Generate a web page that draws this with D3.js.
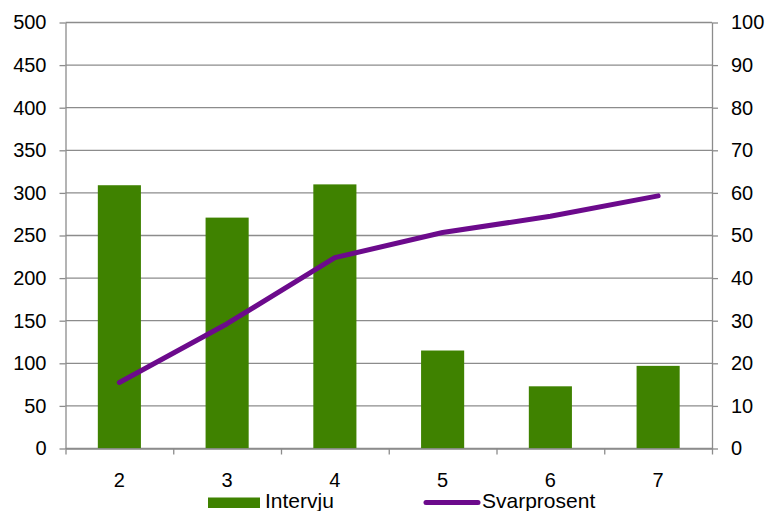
<!DOCTYPE html>
<html>
<head>
<meta charset="utf-8">
<script src="https://cdn.jsdelivr.net/npm/d3@7"></script>
<style>
  html, body { margin: 0; padding: 0; background: #fff; overflow: hidden; }
  text { font-family: Arial, "Liberation Sans", sans-serif; fill: #000; }
</style>
</head>
<body>
<div id="chart"></div>
<script>
// Interviews (bars, left axis) and response rate (line, right axis)
const categories   = ["2", "3", "4", "5", "6", "7"];
const intervju     = [309, 271, 310, 115, 73, 97];
const svarprosent  = [15.5, 29.3, 44.8, 50.7, 54.5, 59.3];
const leftTicks    = [0, 50, 100, 150, 200, 250, 300, 350, 400, 450, 500];
const rightTicks   = [0, 10, 20, 30, 40, 50, 60, 70, 80, 90, 100];

const width = 768, height = 511;
const margin = { top: 22.5, right: 56, bottom: 62.5, left: 65.5 };
const plot_width  = width  - margin.left - margin.right;
const plot_height = height - margin.top  - margin.bottom;

const gridColor = "#8c8c8c";
const barColor  = "#3f8200";
const lineColor = "#6c0a8c";
const fontSize  = "20px";

const svg = d3.select("#chart").append("svg")
  .attr("width", width)
  .attr("height", height);

const plot = svg.append("g")
  .attr("transform", `translate(${margin.left}, ${margin.top})`);

// ── Scales ────────────────────────────────────────────────────────────────
const x = d3.scaleBand()
  .domain(categories)
  .range([0, plot_width])
  .paddingInner(0.6)
  .paddingOuter(0.3);

const xEdges = d3.scaleLinear()
  .domain([0, categories.length])
  .range([0, plot_width]);

const yLeft = d3.scaleLinear().domain([0, 500]).range([plot_height, 0]);
const yRight = d3.scaleLinear().domain([0, 100]).range([plot_height, 0]);

// ── Gridlines ─────────────────────────────────────────────────────────────
plot.append("g")
  .selectAll("line")
  .data(leftTicks)
  .join("line")
  .attr("x1", 0).attr("x2", plot_width)
  .attr("y1", d => yLeft(d)).attr("y2", d => yLeft(d))
  .attr("stroke", gridColor)
  .attr("stroke-width", 1.3);

// ── Bars ──────────────────────────────────────────────────────────────────
plot.append("g")
  .selectAll("rect")
  .data(intervju)
  .join("rect")
  .attr("x", (d, i) => x(categories[i]))
  .attr("y", d => yLeft(d))
  .attr("width", x.bandwidth())
  .attr("height", d => plot_height - yLeft(d))
  .attr("fill", barColor);

// ── Axes ──────────────────────────────────────────────────────────────────
function styleAxis(g) {
  g.select(".domain").attr("stroke", gridColor).attr("stroke-width", 1.3);
  g.selectAll(".tick line").attr("stroke", gridColor).attr("stroke-width", 1.3);
  g.selectAll(".tick text")
    .style("font-size", fontSize)
    .style("font-family", "Arial, 'Liberation Sans', sans-serif")
    .attr("fill", "#000");
}

plot.append("g")
  .call(d3.axisLeft(yLeft).tickValues(leftTicks).tickSize(6).tickSizeOuter(0).tickPadding(13))
  .call(styleAxis);

plot.append("g")
  .attr("transform", `translate(${plot_width}, 0)`)
  .call(d3.axisRight(yRight).tickValues(rightTicks).tickSize(6).tickSizeOuter(0).tickPadding(13))
  .call(styleAxis);

// x axis: ticks at category edges, labels centred in bands
const xAxis = plot.append("g")
  .attr("transform", `translate(0, ${plot_height})`)
  .call(d3.axisBottom(xEdges).tickValues(d3.range(categories.length + 1)).tickSize(6).tickSizeOuter(0).tickFormat(""))
  .call(styleAxis);

xAxis.selectAll(".cat-label")
  .data(categories)
  .join("text")
  .attr("class", "cat-label")
  .attr("x", d => x(d) + x.bandwidth() / 2)
  .attr("y", 38.5)
  .attr("text-anchor", "middle")
  .attr("fill", "#000")
  .style("font-size", fontSize)
  .text(d => d);

// ── Line ──────────────────────────────────────────────────────────────────
const line = d3.line()
  .x((d, i) => x(categories[i]) + x.bandwidth() / 2)
  .y(d => yRight(d));

plot.append("path")
  .datum(svarprosent)
  .attr("d", line)
  .attr("fill", "none")
  .attr("stroke", lineColor)
  .attr("stroke-width", 5)
  .attr("stroke-linecap", "round")
  .attr("stroke-linejoin", "round");

// ── Legend ────────────────────────────────────────────────────────────────
const legend = svg.append("g");

legend.append("rect")
  .attr("x", 208).attr("y", 497.5)
  .attr("width", 52).attr("height", 10.5)
  .attr("fill", barColor);

legend.append("text")
  .attr("x", 265).attr("y", 508)
  .style("font-size", "21px")
  .text("Intervju");

legend.append("line")
  .attr("x1", 426).attr("x2", 478)
  .attr("y1", 502.5).attr("y2", 502.5)
  .attr("stroke", lineColor)
  .attr("stroke-width", 5)
  .attr("stroke-linecap", "round");

legend.append("text")
  .attr("x", 482).attr("y", 508)
  .style("font-size", "21px")
  .text("Svarprosent");
</script>
</body>
</html>
